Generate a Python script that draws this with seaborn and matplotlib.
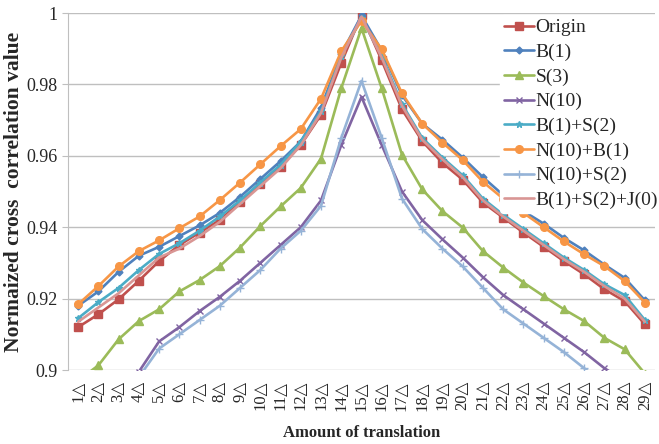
import numpy as np
import pandas as pd
import seaborn as sns
import matplotlib.pyplot as plt
from matplotlib.ticker import FuncFormatter

shifts = list(range(1, 30))
tick_labels = [f'{i}\u25b3' for i in shifts]

origin = [0.912, 0.9156, 0.9198, 0.925, 0.9305, 0.935, 0.9385, 0.942, 0.947, 0.952,
          0.957, 0.963, 0.9715, 0.986, 0.9995, 0.9867, 0.973, 0.9641, 0.958, 0.9533,
          0.9469, 0.9427, 0.9385, 0.9345, 0.9305, 0.9268, 0.9226, 0.9193, 0.9128]
b1 = [0.918, 0.922, 0.9275, 0.932, 0.9345, 0.9375, 0.9405, 0.944, 0.9485, 0.9535,
      0.9585, 0.964, 0.9735, 0.9885, 0.9993, 0.9895, 0.977, 0.969, 0.9645, 0.9595,
      0.954, 0.949, 0.9445, 0.941, 0.937, 0.9335, 0.9295, 0.9258, 0.9195]
s3 = [0.897, 0.9013, 0.9086, 0.9137, 0.917, 0.922, 0.9252, 0.9291, 0.9343, 0.9403,
      0.9458, 0.951, 0.9592, 0.9789, 0.9958, 0.9789, 0.9603, 0.9506, 0.9445, 0.9399,
      0.9333, 0.9287, 0.9245, 0.9207, 0.917, 0.9137, 0.909, 0.9058, 0.899]
n10 = [0.882, 0.886, 0.890, 0.8995, 0.908, 0.912, 0.9165, 0.9205, 0.925, 0.930,
       0.935, 0.940, 0.9475, 0.963, 0.9765, 0.963, 0.950, 0.942, 0.9366, 0.9315,
       0.926, 0.921, 0.917, 0.913, 0.909, 0.905, 0.9005, 0.897, 0.893]
b1_s2 = [0.9145, 0.919, 0.923, 0.928, 0.9325, 0.9355, 0.939, 0.943, 0.9475, 0.9525,
         0.9575, 0.964, 0.9725, 0.988, 0.9985, 0.988, 0.9745, 0.965, 0.9595, 0.9545,
         0.948, 0.9435, 0.9395, 0.9355, 0.9315, 0.928, 0.924, 0.921, 0.914]
n10_b1 = [0.9184, 0.9235, 0.929, 0.9333, 0.9363, 0.9397, 0.943, 0.9476, 0.9525, 0.9576,
          0.9627, 0.9675, 0.976, 0.9893, 0.9978, 0.9898, 0.9775, 0.969, 0.9637, 0.9588,
          0.9527, 0.948, 0.944, 0.940, 0.936, 0.9324, 0.9291, 0.9249, 0.9189]
n10_s2 = [0.880, 0.884, 0.888, 0.898, 0.906, 0.910, 0.914, 0.918, 0.923, 0.928,
          0.934, 0.939, 0.946, 0.965, 0.981, 0.965, 0.948, 0.9395, 0.934, 0.929,
          0.923, 0.917, 0.913, 0.909, 0.905, 0.9005, 0.896, 0.892, 0.888]
b1_s2_j0 = [0.9135, 0.9175, 0.9215, 0.9265, 0.9315, 0.934, 0.9375, 0.9415, 0.9465, 0.9515,
            0.9565, 0.963, 0.972, 0.9875, 0.999, 0.9875, 0.974, 0.9645, 0.959, 0.954,
            0.9475, 0.943, 0.939, 0.935, 0.931, 0.9275, 0.9235, 0.920, 0.9135]

series = [
    ('Origin', origin, '#C0504D', 's', 5.5),
    ('B(1)', b1, '#4F81BD', 'D', 3.5),
    ('S(3)', s3, '#9BBB59', '^', 5.5),
    ('N(10)', n10, '#8064A2', 'x', 5),
    ('B(1)+S(2)', b1_s2, '#4BACC6', '*', 5),
    ('N(10)+B(1)', n10_b1, '#F79646', 'o', 5.5),
    ('N(10)+S(2)', n10_s2, '#95B3D7', '+', 6),
    ('B(1)+S(2)+J(0)', b1_s2_j0, '#D99694', None, 0),
]

sns.set_style('white')
plt.rcParams['font.family'] = ['Liberation Serif', 'DejaVu Serif']

fig = plt.figure(figsize=(6.59, 4.44), dpi=100)
ax = fig.add_axes([68 / 659, 1 - 370 / 444, (655 - 68) / 659, (370 - 13) / 444])

for name, vals, color, marker, ms in series:
    df = pd.DataFrame({'x': shifts, 'y': vals})
    sns.lineplot(data=df, x='x', y='y', ax=ax, color=color, marker=marker,
                 markersize=ms, markeredgecolor=color, markeredgewidth=1,
                 linewidth=1.9, label=name)

ax.set_xlim(0.5, 29.5)
ax.set_ylim(0.9, 1.0)
ax.set_yticks([0.9, 0.92, 0.94, 0.96, 0.98, 1.0])
ax.yaxis.set_major_formatter(FuncFormatter(lambda v, p: f'{v:g}'))
ax.set_xticks(shifts)
ax.set_xticklabels(tick_labels, rotation=90, fontsize=12,
                   family=['Liberation Serif', 'DejaVu Sans'])
ax.tick_params(axis='y', labelsize=13, length=4, color='#BFBFBF', direction='out', left=True)
ax.tick_params(axis='x', length=0, pad=8)
ax.grid(axis='y', color='#BFBFBF', linewidth=1)
ax.set_axisbelow(True)
for side in ['top', 'right', 'bottom']:
    ax.spines[side].set_visible(False)
ax.spines['left'].set_color('#BFBFBF')

ax.set_xlabel('Amount of translation', fontsize=12, fontweight='bold', labelpad=10)
ax.set_ylabel('Normaized cross  correlation value', fontsize=15.5, fontweight='bold', labelpad=2)

leg = ax.legend(loc='upper right', bbox_to_anchor=(1.015, 1.0), frameon=True, fontsize=14,
                handlelength=1.5, handletextpad=0.1, labelspacing=0.36, borderpad=0.2,
                borderaxespad=0.1)
leg.get_frame().set_facecolor('white')
leg.get_frame().set_edgecolor('white')
leg.get_frame().set_alpha(1)

fig.savefig('out.png', dpi=100)
